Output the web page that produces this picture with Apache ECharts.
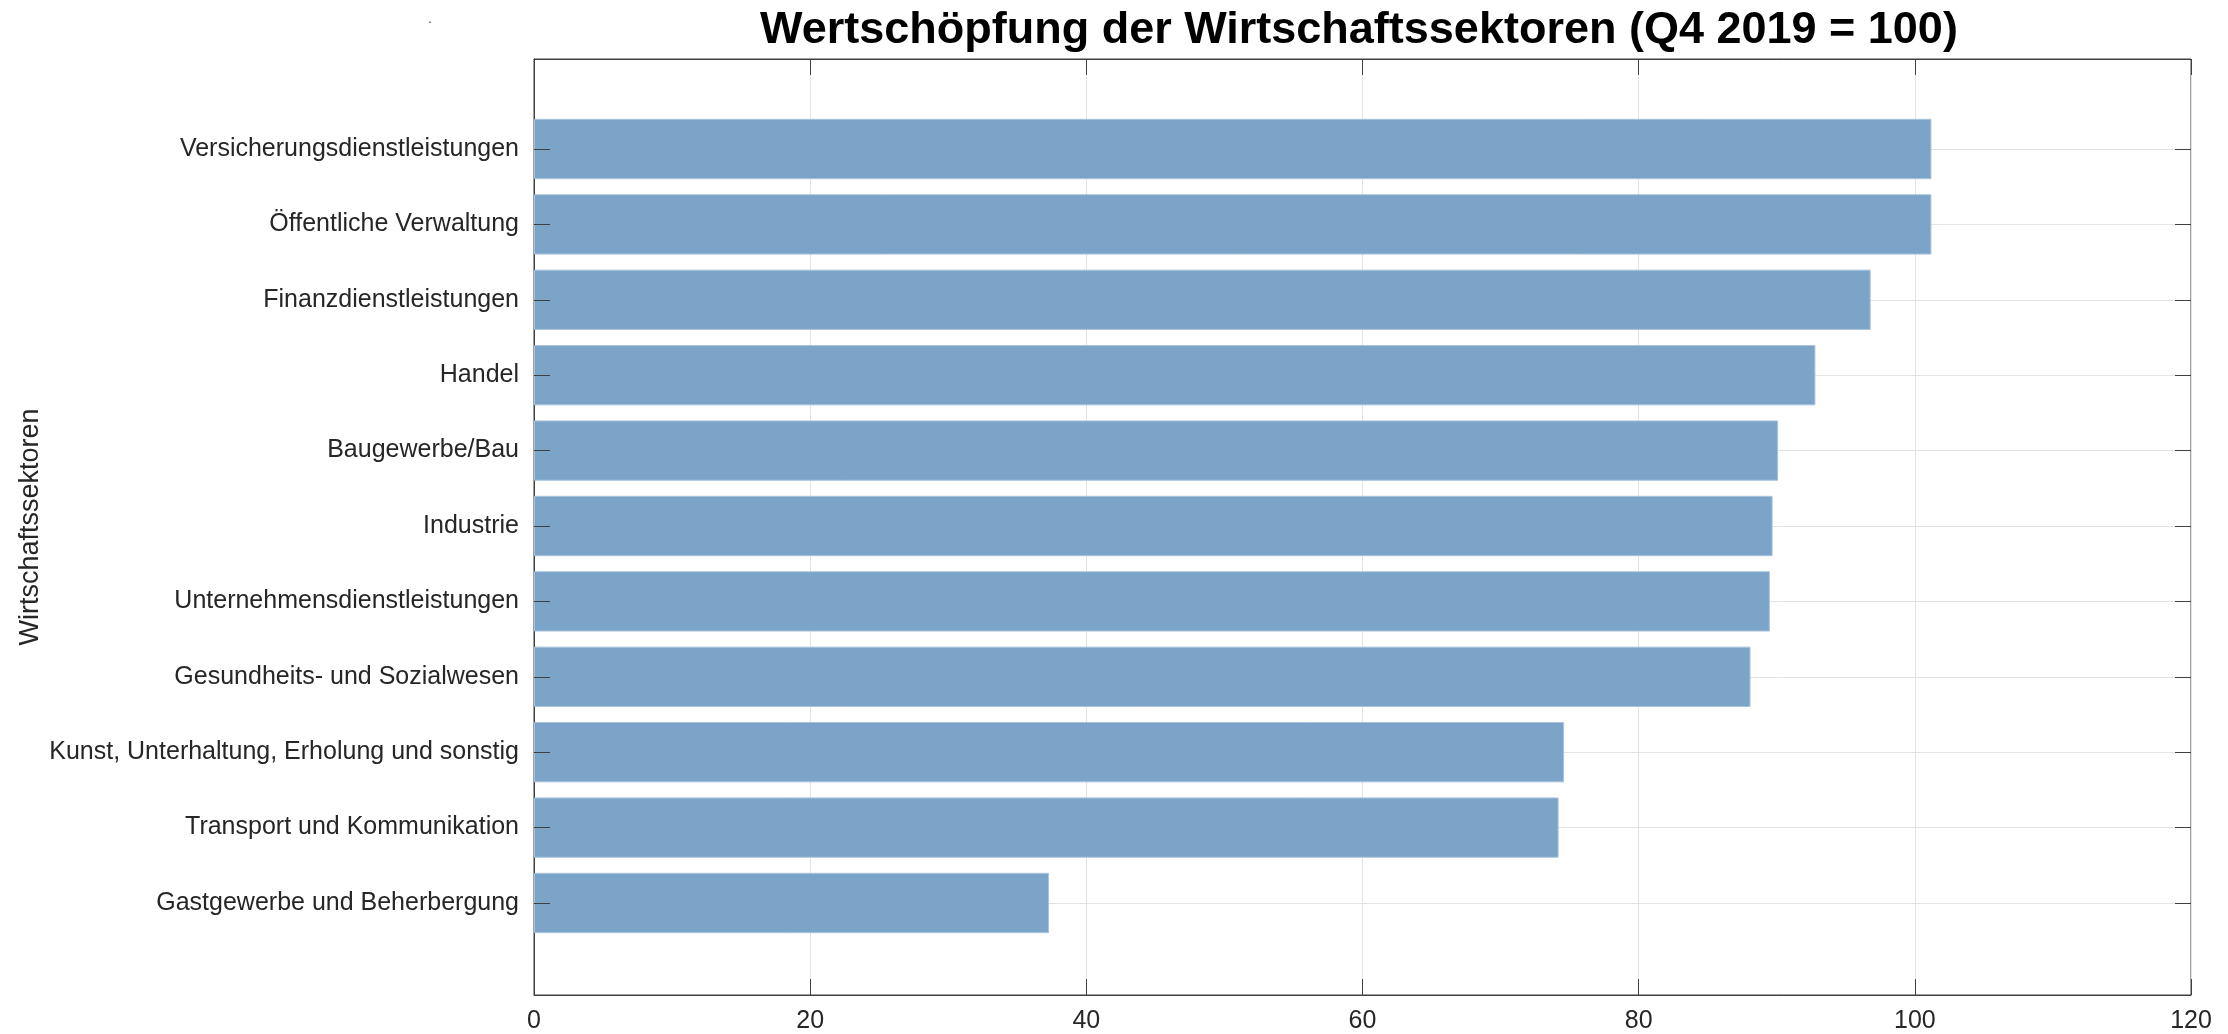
<!DOCTYPE html>
<html>
<head>
<meta charset="utf-8">
<script src="https://cdn.jsdelivr.net/npm/echarts@6/dist/echarts.min.js"></script>
<style>
  html, body { margin: 0; padding: 0; background: #fff; }
  #chart { width: 2228px; height: 1034px; }
</style>
</head>
<body>
<div id="chart"></div>
<script>
const sectors = [
  'Versicherungsdienstleistungen',
  'Öffentliche Verwaltung',
  'Finanzdienstleistungen',
  'Handel',
  'Baugewerbe/Bau',
  'Industrie',
  'Unternehmensdienstleistungen',
  'Gesundheits- und Sozialwesen',
  'Kunst, Unterhaltung, Erholung und sonstig',
  'Transport und Kommunikation',
  'Gastgewerbe und Beherbergung',
];
const values = [101.2, 101.2, 96.8, 92.8, 90.1, 89.7, 89.5, 88.1, 74.6, 74.2, 37.3];
const xTicks = [0, 20, 40, 60, 80, 100, 120];

const font = '"Liberation Sans", Arial, Helvetica, sans-serif';
const textColor = '#262626';
const axisColor = '#404040';
const gridColor = '#e3e3e3';

const chart = echarts.init(document.getElementById('chart'));

const plotLeft = 534;
const plotRight = 37;
const hiddenX = (gridIndex) => ({
  type: 'value', gridIndex, min: 0, max: 120, interval: 20, show: false,
});

const option = {
  backgroundColor: '#fff',
  animation: false,
  textStyle: { fontFamily: font },
  title: [
    {
      text: 'Wertschöpfung der Wirtschaftssektoren (Q4 2019 = 100)',
      left: 760,
      top: 8,
      padding: 0,
      textStyle: { fontFamily: font, fontSize: 45, fontWeight: 'bold', color: '#000' },
    },
    {
      text: '.',
      left: 428,
      top: 12,
      padding: 0,
      textStyle: { fontFamily: font, fontSize: 14, fontWeight: 'normal', color: '#444' },
    },
  ],
  grid: [
    // outer frame
    {
      left: plotLeft, right: plotRight, top: 59, bottom: 39,
      show: true, borderColor: axisColor, borderWidth: 1, backgroundColor: 'transparent',
    },
    // category bands
    { left: plotLeft, right: plotRight, top: 111.3, bottom: 93.3 },
    // category centres
    { left: plotLeft, right: plotRight, top: 149, bottom: 131 },
  ],
  xAxis: [
    {
      type: 'value', gridIndex: 0, min: xTicks[0], max: xTicks[xTicks.length - 1], interval: 20,
      axisLine: { show: true, lineStyle: { color: axisColor, width: 1 } },
      axisTick: { show: true, inside: true, length: 16, lineStyle: { color: axisColor, width: 1 } },
      axisLabel: { fontFamily: font, fontSize: 25, color: textColor, margin: 14 },
      splitLine: { show: true, lineStyle: { color: gridColor, width: 1 } },
    },
    {
      type: 'value', gridIndex: 0, position: 'top', min: 0, max: 120, interval: 20,
      axisLine: { show: true, lineStyle: { color: axisColor, width: 1 } },
      axisTick: { show: true, inside: true, length: 16, lineStyle: { color: axisColor, width: 1 } },
      axisLabel: { show: false },
      splitLine: { show: false },
    },
    hiddenX(1),
    hiddenX(2),
  ],
  yAxis: [
    {
      type: 'value', gridIndex: 0, min: 0, max: 1,
      axisLine: { show: true, lineStyle: { color: axisColor, width: 1 } },
      axisTick: { show: false },
      axisLabel: { show: false },
      splitLine: { show: false },
      name: 'Wirtschaftssektoren',
      nameLocation: 'middle',
      nameGap: 490,
      nameTextStyle: { fontFamily: font, fontSize: 27, color: textColor },
    },
    {
      type: 'category', gridIndex: 1, data: sectors, inverse: true, z: 5,
      axisLine: { show: false },
      axisTick: { show: true, inside: true, alignWithLabel: true, length: 16, lineStyle: { color: axisColor, width: 1 } },
      axisLabel: { fontFamily: font, fontSize: 25, color: textColor, margin: 15, padding: [3, 0, 0, 0] },
      splitLine: { show: false },
    },
    {
      type: 'value', gridIndex: 2, min: 0, max: 10, interval: 1,
      axisLine: { show: false },
      axisTick: { show: false },
      axisLabel: { show: false },
      splitLine: { show: true, lineStyle: { color: gridColor, width: 1 } },
    },
    {
      type: 'value', gridIndex: 2, position: 'right', min: 0, max: 10, interval: 1,
      axisLine: { show: false },
      axisTick: { show: true, inside: true, length: 16, lineStyle: { color: axisColor, width: 1 } },
      axisLabel: { show: false },
      splitLine: { show: false },
    },
  ],
  series: [
    {
      type: 'bar',
      xAxisIndex: 2,
      yAxisIndex: 1,
      data: values,
      barCategoryGap: '20%',
      itemStyle: { color: '#7ca3c8', borderColor: '#a9c3dc', borderWidth: 1 },
      silent: true,
    },
  ],
};

chart.setOption(option);
</script>
</body>
</html>
